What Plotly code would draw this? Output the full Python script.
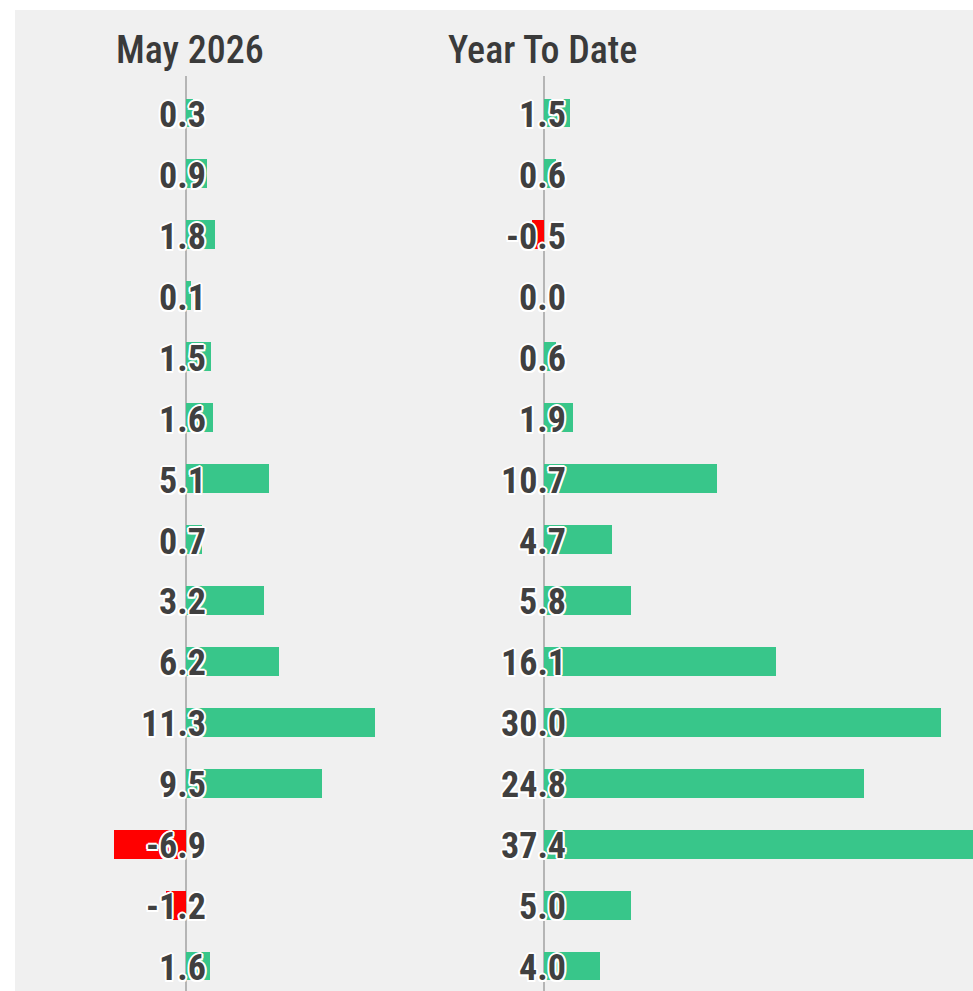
import plotly.graph_objects as go

# ---- data ----
rows = list(range(15))
may_labels = [0.3, 0.9, 1.8, 0.1, 1.5, 1.6, 5.1, 0.7, 3.2, 6.2, 11.3, 9.5, -6.9, -1.2, 1.6]
may_bars = [0.42, 1.28, 1.73, 0.3, 1.52, 1.61, 4.98, 0.98, 4.68, 5.58, 11.3, 8.14, -6.9, -1.15, 1.49]
ytd_labels = [1.5, 0.6, -0.5, 0.0, 0.6, 1.9, 10.7, 4.7, 5.8, 16.1, 30.0, 24.8, 37.4, 5.0, 4.0]
ytd_bars = [1.94, 0.91, -0.9, 0.0, 0.91, 2.17, 13.06, 5.12, 6.56, 17.52, 30.0, 24.18, 37.4, 6.56, 4.21]
panel_titles = ["May 2026", "Year To Date"]

GREEN = "#38c68a"
RED = "#ff0000"
TXT = "#404040"
W, H = 973, 991
FONT = "Liberation Sans Narrow, Roboto Condensed, Roboto, sans-serif"
OUTLINE = ("2px 0 0 #fff, -2px 0 0 #fff, 0 2px 0 #fff, 0 -2px 0 #fff, "
           "1.5px 1.5px 0 #fff, -1.5px -1.5px 0 #fff, 1.5px -1.5px 0 #fff, -1.5px 1.5px 0 #fff")

def colors(vals):
    return [GREEN if v >= 0 else RED for v in vals]

fig = go.Figure()
fig.add_trace(go.Bar(x=may_bars, y=rows, orientation="h", width=0.475,
                     marker=dict(color=colors(may_bars), line=dict(width=0)),
                     xaxis="x", yaxis="y", hoverinfo="skip", showlegend=False))
fig.add_trace(go.Bar(x=ytd_bars, y=rows, orientation="h", width=0.475,
                     marker=dict(color=colors(ytd_bars), line=dict(width=0)),
                     xaxis="x2", yaxis="y", hoverinfo="skip", showlegend=False))

annotations = []
for xref, labels, shift in (("x", may_labels, 22), ("x2", ytd_labels, 24)):
    for r, v in zip(rows, labels):
        annotations.append(dict(
            x=0, y=r, xref=xref, yref="y", text=f"{v:.1f}", showarrow=False,
            xanchor="right", yanchor="middle", xshift=shift, yshift=-2,
            font=dict(family=FONT, size=36, color=TXT, weight="bold", shadow=OUTLINE)))
for xref, t, shift in zip(("x", "x2"), panel_titles, (4, -2)):
    annotations.append(dict(
        x=0, y=1 - 50 / H, xref=xref, yref="paper", text=t, showarrow=False,
        xanchor="center", yanchor="middle", xshift=shift,
        font=dict(family=FONT, size=38, color="#3a3a3a", weight=500)))

def px_x(p):
    return p / W

may_scale = 16.77
ytd_scale = 13.22
may_zero, ytd_zero = 185.5, 544.3
may_l, may_r = 114, 420
ytd_l, ytd_r = 430, 973

row_px0, row_step = 113, 60.93
top_px, bot_px = 76, 991

fig.update_layout(
    width=W, height=H,
    margin=dict(l=0, r=0, t=0, b=0),
    paper_bgcolor="white", plot_bgcolor="rgba(0,0,0,0)",
    bargap=0,
    xaxis=dict(domain=[px_x(may_l), px_x(may_r)],
               range=[(may_l - may_zero) / may_scale, (may_r - may_zero) / may_scale],
               showgrid=False, showticklabels=False, ticks="",
               zeroline=True, zerolinecolor="#b5b5b5", zerolinewidth=2, fixedrange=True),
    xaxis2=dict(domain=[px_x(ytd_l), 1],
                range=[(ytd_l - ytd_zero) / ytd_scale, (ytd_r - ytd_zero) / ytd_scale],
                showgrid=False, showticklabels=False, ticks="",
                zeroline=True, zerolinecolor="#b5b5b5", zerolinewidth=2, fixedrange=True),
    yaxis=dict(domain=[0, 1 - top_px / H],
               range=[(bot_px - row_px0) / row_step, (top_px - row_px0) / row_step],
               showgrid=False, showticklabels=False, ticks="", zeroline=False, fixedrange=True),
    shapes=[dict(type="rect", xref="paper", yref="paper", x0=15 / W, x1=1, y0=0, y1=1 - 10 / H,
                 fillcolor="#f0f0f0", line=dict(width=0), layer="below")],
    annotations=annotations,
)

fig.write_html("out.html", config={"displayModeBar": False},
               post_script="document.body.style.margin='0';document.body.style.overflow='hidden';")
